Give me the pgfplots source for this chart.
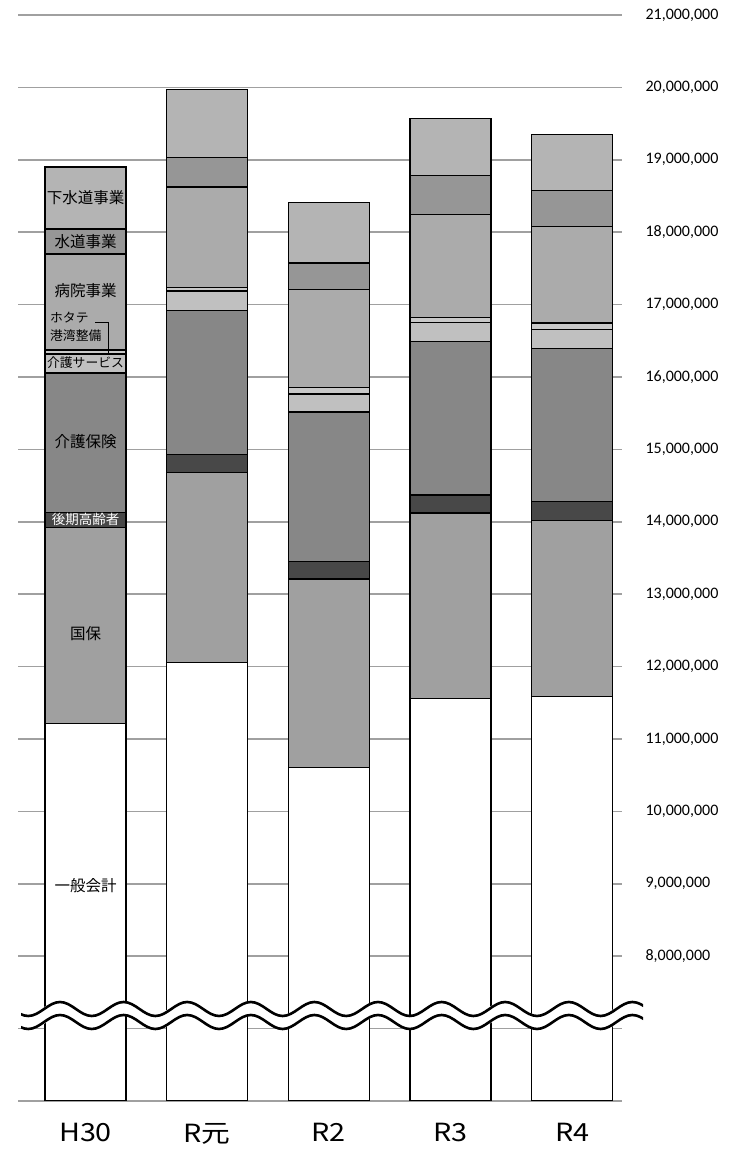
\documentclass[border=0pt]{standalone}
\usepackage{fontspec}
\setmainfont{Carlito}
\newfontfamily\jpfont{Noto Sans CJK JP}
\newfontfamily\jpwide[FakeStretch=1.15]{Noto Sans CJK JP}
\usepackage{pgfplots}
\pgfplotsset{compat=1.18}
\usepackage{pgfplotstable}

\definecolor{ippan}{HTML}{FFFFFF}
\definecolor{kokuho}{HTML}{A0A0A0}
\definecolor{kouki}{HTML}{484848}
\definecolor{kaigoH}{HTML}{878787}
\definecolor{kaigoS}{HTML}{C0C0C0}
\definecolor{hotate}{HTML}{C8C8C8}
\definecolor{byoin}{HTML}{ABABAB}
\definecolor{suido}{HTML}{969696}
\definecolor{gesui}{HTML}{B4B4B4}
\definecolor{gridgray}{HTML}{A0A0A0}

\tikzset{
  lab/.style={font=\jpfont\fontsize{15.5bp}{16bp}\selectfont, inner sep=0pt},
  labs/.style={font=\jpfont\fontsize{12.8bp}{13bp}\selectfont, inner sep=0pt},
}

\begin{document}
% budget by account, bottom to top of each bar
\pgfplotstableread{
x ippan    kokuho  kouki  kaigoH  kaigoS hotate byoin   suido  gesui
0 11218000 2708000 207000 1921000 262000 56000  1326000 345000 857000
1 12061000 2621000 249000 1989000 267000 51000  1386000 405000 944000
2 10610000 2598000 248000 2059000 249000 92000  1349000 369000 833000
3 11564000 2556000 248000 2124000 257000 74000  1423000 539000 788000
4 11591000 2428000 257000 2114000 268000 87000  1330000 498000 773000
}\budget
\begin{tikzpicture}
\path[use as bounding box] (0,0) rectangle (745bp,1149bp);
\begin{axis}[
    at={(18bp,48bp)}, anchor=south west,
    width=604bp, height=1086bp, scale only axis,
    xmin=-0.555, xmax=4.41,
    ymin=6000000, ymax=21000000,
    ybar stacked, bar width=81bp,
    xtick={0,1,2,3,4},
    xticklabels={H30,R元,R2,R3,R4},
    xticklabel style={font=\jpwide\fontsize{25bp}{25bp}\selectfont, yshift=-19bp},
    ytick={6000000,7000000,8000000,9000000,10000000,11000000,12000000,13000000,
           14000000,15000000,16000000,17000000,18000000,19000000,20000000,21000000},
    yticklabels={{},{},{8,000,000},{9,000,000},{10,000,000},{11,000,000},{12,000,000},
           {13,000,000},{14,000,000},{15,000,000},{16,000,000},{17,000,000},
           {18,000,000},{19,000,000},{20,000,000},{21,000,000}},
    yticklabel pos=right,
    yticklabel style={font=\fontsize{16bp}{16bp}\selectfont, anchor=west, xshift=20bp},
    ymajorgrids,
    grid style={gridgray, line width=1.6bp},
    axis line style={draw=none},
    major tick length=0pt,
]
\addplot[draw=black, line width=1.3bp, fill=ippan]  table[x=x, y=ippan]  {\budget};
\addplot[draw=black, line width=1.3bp, fill=kokuho] table[x=x, y=kokuho] {\budget};
\addplot[draw=black, line width=1.3bp, fill=kouki]  table[x=x, y=kouki]  {\budget};
\addplot[draw=black, line width=1.3bp, fill=kaigoH] table[x=x, y=kaigoH] {\budget};
\addplot[draw=black, line width=1.3bp, fill=kaigoS] table[x=x, y=kaigoS] {\budget};
\addplot[draw=black, line width=1.3bp, fill=hotate] table[x=x, y=hotate] {\budget};
\addplot[draw=black, line width=1.3bp, fill=byoin]  table[x=x, y=byoin]  {\budget};
\addplot[draw=black, line width=1.3bp, fill=suido]  table[x=x, y=suido]  {\budget};
\addplot[draw=black, line width=1.3bp, fill=gesui]  table[x=x, y=gesui]  {\budget};

% anchor points for the labels in the H30 bar
\coordinate (gesui)  at (axis cs:0,18472000);
\coordinate (suido)  at (axis cs:0,17864000);
\coordinate (byoin)  at (axis cs:0,17187000);
\coordinate (kaigoS) at (axis cs:0,16192000);
\coordinate (kaigoH) at (axis cs:0,15101000);
\coordinate (kouki)  at (axis cs:0,14037000);
\coordinate (kokuho) at (axis cs:0,12462000);
\coordinate (ippan)  at (axis cs:0,8980000);
\coordinate (hot1)   at (axis cs:-0.292,16814000);
\coordinate (hot2)   at (axis cs:-0.292,16565000);
\coordinate (br1)    at (axis cs:0.078,16758000);
\coordinate (br2)    at (axis cs:0.185,16330000);
\end{axis}

\node[lab] at (gesui) {下水道事業};
\node[lab] at (suido) {水道事業};
\node[lab] at (byoin) {病院事業};
\node[labs] at (kaigoS) {介護サービス};
\node[lab] at (kaigoH) {介護保険};
\node[labs, text=white, font=\jpfont\fontsize{13.5bp}{14bp}\selectfont] at (kouki) {後期高齢者};
\node[lab] at (kokuho) {国保};
\node[lab] at (ippan) {一般会計};
\node[labs, anchor=west] at (hot1) {ホタテ};
\node[labs, anchor=west] at (hot2) {港湾整備};
\draw[line width=0.9bp] (br1) -| (br2);

% axis break
\begin{scope}
\clip (21bp,0) rectangle (643bp,1149bp);
\draw[white, line width=14bp] (-19.5bp,133.5bp)
    \foreach \k in {0,...,11} {sin ++(15.9bp,7bp) cos ++(15.9bp,-7bp) sin ++(15.9bp,-7bp) cos ++(15.9bp,7bp)};
\draw[black, line width=2.6bp] (-19.5bp,140bp)
    \foreach \k in {0,...,11} {sin ++(15.9bp,7bp) cos ++(15.9bp,-7bp) sin ++(15.9bp,-7bp) cos ++(15.9bp,7bp)};
\draw[black, line width=2.6bp] (-19.5bp,127bp)
    \foreach \k in {0,...,11} {sin ++(15.9bp,7bp) cos ++(15.9bp,-7bp) sin ++(15.9bp,-7bp) cos ++(15.9bp,7bp)};
\end{scope}
\end{tikzpicture}
\end{document}
